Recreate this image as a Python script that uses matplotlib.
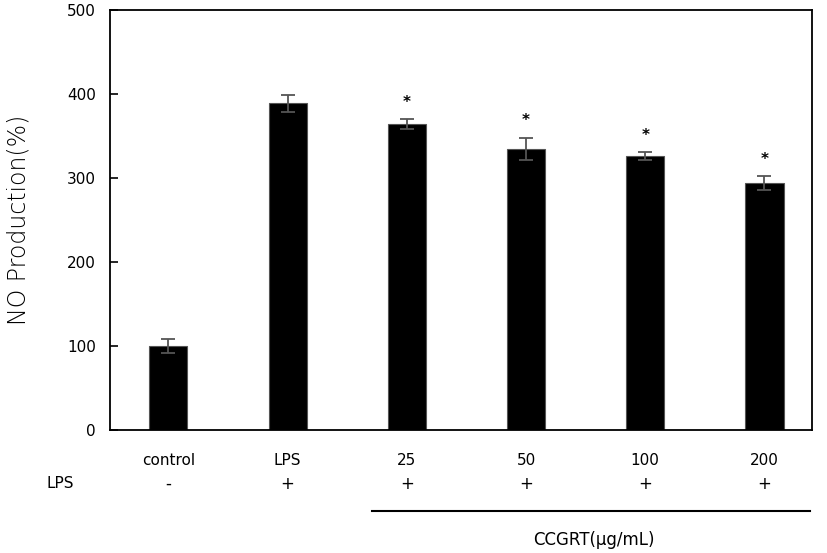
import matplotlib.pyplot as plt
import matplotlib.transforms as mtransforms
import numpy as np

# values
groups = ['control', 'LPS', '25', '50', '100', '200']
lps = ['-', '+', '+', '+', '+', '+']
no_prod = [100, 389, 364, 335, 326, 294]
no_err = [8, 10, 6, 13, 5, 8]
signif = [False, False, True, True, True, True]

fig = plt.figure(figsize=(8.27, 5.53), dpi=100)
ax = fig.add_axes([0.133, 0.222, 0.849, 0.760])

x = np.arange(len(groups))
ax.bar(x, no_prod, width=0.32, color='black', edgecolor='#555555', linewidth=0.8)
ax.errorbar(x, no_prod, yerr=no_err, fmt='none', ecolor='#555555',
            elinewidth=1.3, capsize=5, capthick=1.3)

# significance marks
for xi, v, e, s in zip(x, no_prod, no_err, signif):
    if s:
        ax.text(xi, v + e + 11, '*', ha='center', va='bottom', fontsize=11,
                fontweight='bold')

ax.set_xlim(-0.49, 5.4)
ax.set_ylim(0, 500)
ax.set_yticks(range(0, 501, 100))
ax.set_xticks([])
ax.tick_params(axis='y', direction='in', length=6, width=1.2, labelsize=11, pad=10)
for sp in ax.spines.values():
    sp.set_linewidth(1.3)
ax.set_ylabel('NO Production(%)', fontsize=17, labelpad=26, fontweight='light')

# labels below the bars
trans = mtransforms.blended_transform_factory(ax.transData, ax.transAxes)
for xi, g, l in zip(x, groups, lps):
    ax.text(xi, -0.072, g, transform=trans, ha='center', va='center', fontsize=11)
    ax.text(xi, -0.127, l, transform=trans, ha='center', va='center', fontsize=12)
fig.text(0.073, 1 - 484 / 553, 'LPS', ha='center', va='center', fontsize=11)

ax.plot([1.71, 5.38], [-0.193, -0.193], transform=trans, color='black',
        linewidth=1.5, clip_on=False)
ax.text(3.57, -0.262, 'CCGRT(μg/mL)', transform=trans, ha='center', va='center',
        fontsize=12)

fig.savefig('out.png', dpi=100)
